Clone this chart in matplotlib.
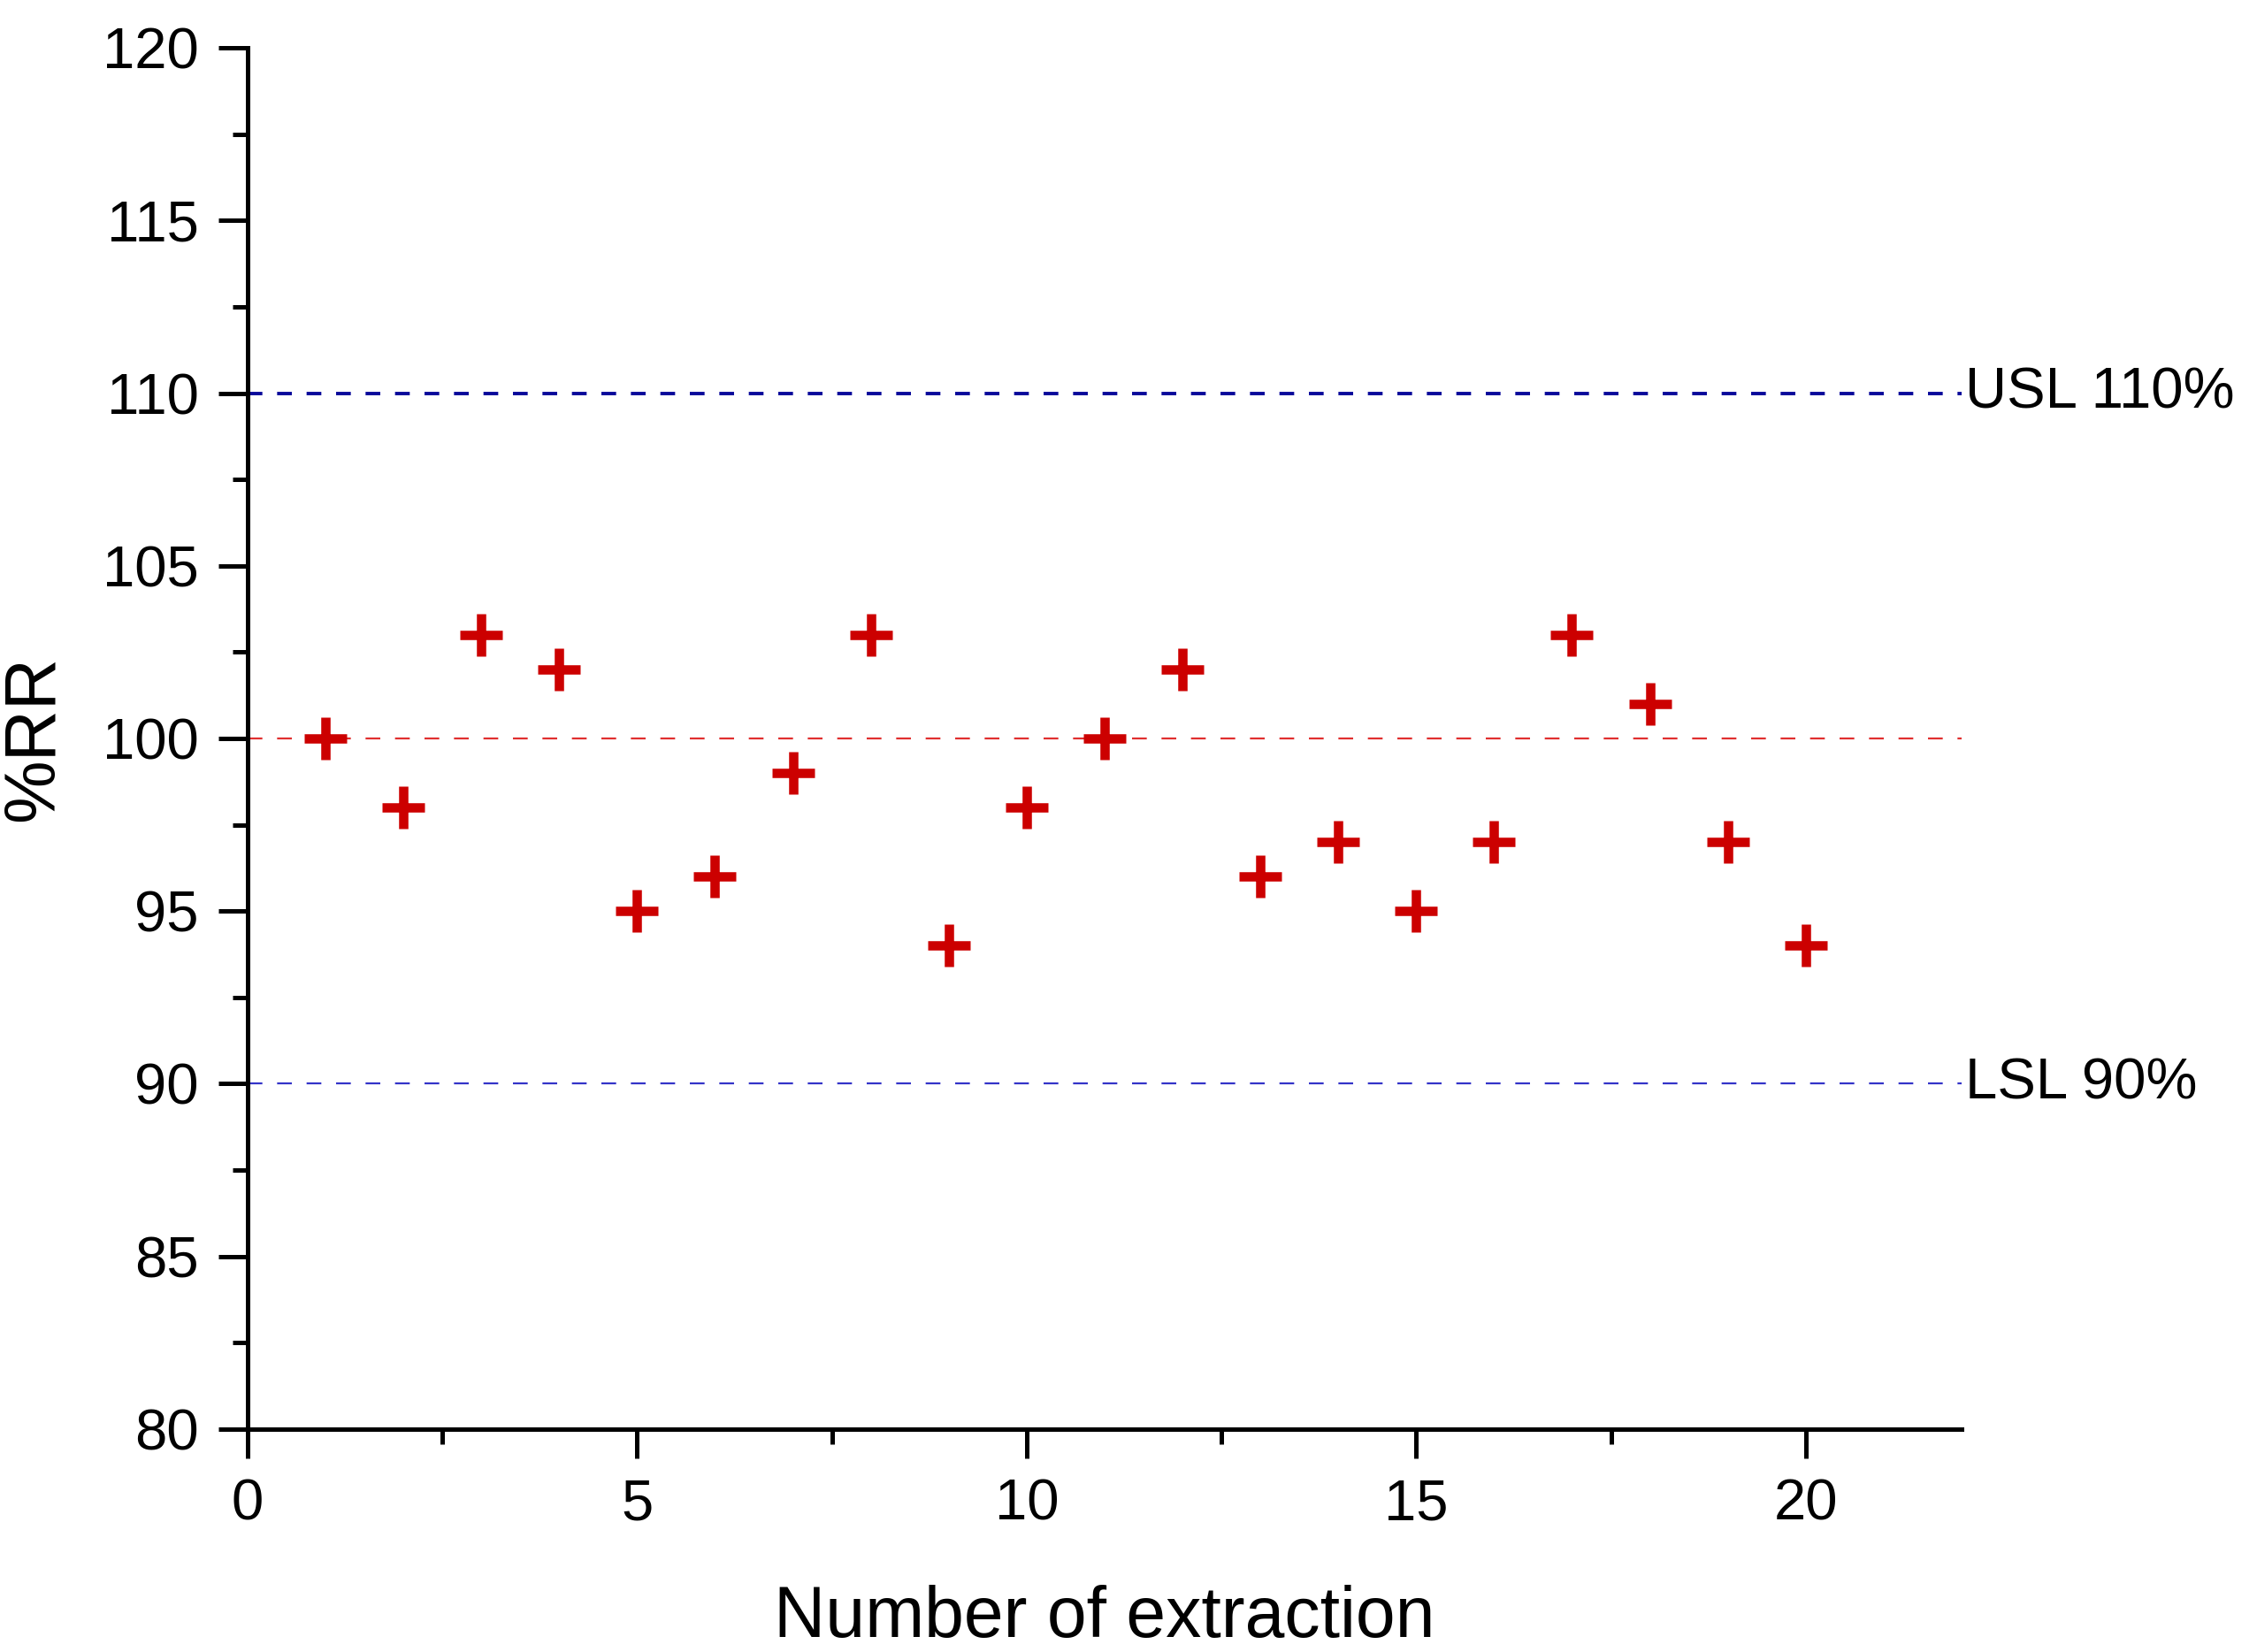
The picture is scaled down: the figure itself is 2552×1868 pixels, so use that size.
import matplotlib
matplotlib.use('Agg')
from matplotlib import pyplot as plt
from matplotlib.ticker import MultipleLocator

# Recovery values for each extraction.
extractions = list(range(1, 21))
recovery = [100, 98, 103, 102, 95, 96, 99, 103, 94, 98,
            100, 102, 96, 97, 95, 97, 103, 101, 97, 94]

mean_line = 100
usl, lsl = 110, 90
usl_label = 'USL 110%'
lsl_label = 'LSL 90%'

plt.rcParams['font.family'] = ['Liberation Sans', 'DejaVu Sans']
plt.rcParams['lines.scale_dashes'] = False

fig = plt.figure(figsize=(12.76, 9.34), dpi=200)
ax = fig.add_axes([0.1097, 0.135, 0.7594, 0.836])

ax.set_xlim(0, 22)
ax.set_ylim(80, 120)

# Reference lines
ax.plot([0, 22], [usl, usl], color='#0a0a9a', lw=1.4, dashes=(6, 6))
ax.plot([0, 22], [lsl, lsl], color='#3434c8', lw=0.8, dashes=(6, 6))
ax.plot([0, 22], [mean_line, mean_line], color='#e03030', lw=0.8, dashes=(6, 6))

ax.plot(extractions, recovery, linestyle='none', marker='+', ms=17,
        mew=3.8, color='#cc0000')

ax.text(22.05, usl, usl_label, fontsize=23.5, va='center', ha='left',
        clip_on=False)
ax.text(22.05, lsl, lsl_label, fontsize=23.5, va='center', ha='left',
        clip_on=False)

# Format axes
for side in ['top', 'right']:
    ax.spines[side].set_visible(False)
for side in ['left', 'bottom']:
    ax.spines[side].set_linewidth(1.8)

ax.xaxis.set_major_locator(MultipleLocator(5))
ax.xaxis.set_minor_locator(MultipleLocator(2.5))
ax.yaxis.set_major_locator(MultipleLocator(5))
ax.yaxis.set_minor_locator(MultipleLocator(2.5))
ax.tick_params(which='major', direction='out', length=12, width=1.8,
               labelsize=23.5, pad=8)
ax.tick_params(which='minor', direction='out', length=6, width=1.8)

ax.set_xlabel('Number of extraction', fontsize=29, labelpad=22)
ax.set_ylabel('%RR', fontsize=29, labelpad=14)

fig.savefig('out.png', dpi=200)
